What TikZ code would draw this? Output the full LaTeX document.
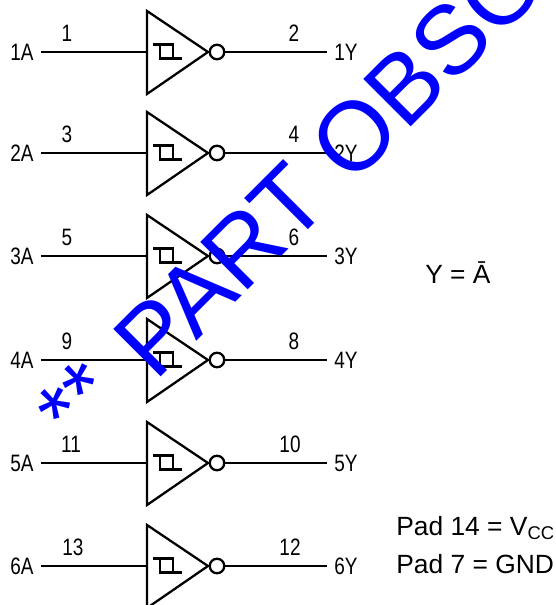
\documentclass[tikz,border=0pt]{standalone}
\usepackage{fontspec}
\setmainfont{Liberation Sans}
\usepackage{tikz}
\usetikzlibrary{calc}

\tikzset{
    wire/.style={line width=1.3pt},
    bubble/.style={circle, draw, line width=1.3pt, minimum size=0.29cm, inner sep=0pt},
    pinname/.style={inner ysep=1pt, inner xsep=5pt, xscale=0.8, font=\fontsize{13.5}{13.5}\selectfont},
    pinnumber/.style={inner sep=0pt, xscale=0.8, font=\fontsize{13.5}{13.5}\selectfont},
    note/.style={inner sep=0pt, anchor=base west, font=\fontsize{15}{15}\selectfont},
    stamp/.style={inner sep=0pt, anchor=base west, rotate=45, text=blue, font=\fontsize{55.5}{55.5}\selectfont}
}

\begin{document}
\begin{tikzpicture}
        \useasboundingbox (0,0) rectangle (11.12,-12.1);
        \clip (0,0) rectangle (11.12,-12.1);
        \begin{scope}[yshift=-1.04cm]
            \draw[wire] (2.94,0.82) -- (2.94,-0.84) -- (4.16,0) -- cycle;
            \draw[wire] (3.06,0.15) -- (3.46,0.15) -- (3.46,-0.13);
            \draw[wire] (3.2,0.15) -- (3.2,-0.13) -- (3.63,-0.13);
            \node[bubble] (b1) at (4.34,0) {};
            \coordinate (t1) at (2.94,0);
            \node[pinname] (a1) at (0.44,0) {1A};
            \node[pinname] (y1) at (6.92,0) {1Y};
            \node[pinnumber] (n1) at (1.34,0.38) {1};
            \node[pinnumber] (m1) at (5.88,0.38) {2};
            \draw[wire] (a1) -- (t1);
            \draw[wire] (b1) -- (y1);
        \end{scope}
        \begin{scope}[yshift=-3.06cm]
            \draw[wire] (2.94,0.82) -- (2.94,-0.84) -- (4.16,0) -- cycle;
            \draw[wire] (3.06,0.15) -- (3.46,0.15) -- (3.46,-0.13);
            \draw[wire] (3.2,0.15) -- (3.2,-0.13) -- (3.63,-0.13);
            \node[bubble] (b2) at (4.34,0) {};
            \coordinate (t2) at (2.94,0);
            \node[pinname] (a2) at (0.44,0) {2A};
            \node[pinname] (y2) at (6.92,0) {2Y};
            \node[pinnumber] (n2) at (1.34,0.38) {3};
            \node[pinnumber] (m2) at (5.88,0.38) {4};
            \draw[wire] (a2) -- (t2);
            \draw[wire] (b2) -- (y2);
        \end{scope}
        \begin{scope}[yshift=-5.12cm]
            \draw[wire] (2.94,0.82) -- (2.94,-0.84) -- (4.16,0) -- cycle;
            \draw[wire] (3.06,0.15) -- (3.46,0.15) -- (3.46,-0.13);
            \draw[wire] (3.2,0.15) -- (3.2,-0.13) -- (3.63,-0.13);
            \node[bubble] (b3) at (4.34,0) {};
            \coordinate (t3) at (2.94,0);
            \node[pinname] (a3) at (0.44,0) {3A};
            \node[pinname] (y3) at (6.92,0) {3Y};
            \node[pinnumber] (n3) at (1.34,0.38) {5};
            \node[pinnumber] (m3) at (5.88,0.38) {6};
            \draw[wire] (a3) -- (t3);
            \draw[wire] (b3) -- (y3);
        \end{scope}
        \begin{scope}[yshift=-7.2cm]
            \draw[wire] (2.94,0.82) -- (2.94,-0.84) -- (4.16,0) -- cycle;
            \draw[wire] (3.06,0.15) -- (3.46,0.15) -- (3.46,-0.13);
            \draw[wire] (3.2,0.15) -- (3.2,-0.13) -- (3.63,-0.13);
            \node[bubble] (b4) at (4.34,0) {};
            \coordinate (t4) at (2.94,0);
            \node[pinname] (a4) at (0.44,0) {4A};
            \node[pinname] (y4) at (6.92,0) {4Y};
            \node[pinnumber] (n4) at (1.34,0.38) {9};
            \node[pinnumber] (m4) at (5.88,0.38) {8};
            \draw[wire] (a4) -- (t4);
            \draw[wire] (b4) -- (y4);
        \end{scope}
        \begin{scope}[yshift=-9.26cm]
            \draw[wire] (2.94,0.82) -- (2.94,-0.84) -- (4.16,0) -- cycle;
            \draw[wire] (3.06,0.15) -- (3.46,0.15) -- (3.46,-0.13);
            \draw[wire] (3.2,0.15) -- (3.2,-0.13) -- (3.63,-0.13);
            \node[bubble] (b5) at (4.34,0) {};
            \coordinate (t5) at (2.94,0);
            \node[pinname] (a5) at (0.44,0) {5A};
            \node[pinname] (y5) at (6.92,0) {5Y};
            \node[pinnumber] (n5) at (1.42,0.38) {11};
            \node[pinnumber] (m5) at (5.8,0.38) {10};
            \draw[wire] (a5) -- (t5);
            \draw[wire] (b5) -- (y5);
        \end{scope}
        \begin{scope}[yshift=-11.32cm]
            \draw[wire] (2.94,0.82) -- (2.94,-0.84) -- (4.16,0) -- cycle;
            \draw[wire] (3.06,0.15) -- (3.46,0.15) -- (3.46,-0.13);
            \draw[wire] (3.2,0.15) -- (3.2,-0.13) -- (3.63,-0.13);
            \node[bubble] (b6) at (4.34,0) {};
            \coordinate (t6) at (2.94,0);
            \node[pinname] (a6) at (0.44,0) {6A};
            \node[pinname] (y6) at (6.92,0) {6Y};
            \node[pinnumber] (n6) at (1.46,0.38) {13};
            \node[pinnumber] (m6) at (5.8,0.38) {12};
            \draw[wire] (a6) -- (t6);
            \draw[wire] (b6) -- (y6);
        \end{scope}
        \node[note] (law) at (8.5,-5.66) {Y = Ā};
        \node[note] (vcc) at (7.92,-10.7) {Pad 14 = V\textsubscript{CC}};
        \node[note] (gnd) at (7.92,-11.46) {Pad 7 = GND};
        \node[stamp, font=\fontsize{50}{50}\selectfont] (stars) at (1.47,-8.93) {**};
        \node[stamp] (obsolete) at (3.1,-7.66) {PART OBSO};
    \end{tikzpicture}
\end{document}
